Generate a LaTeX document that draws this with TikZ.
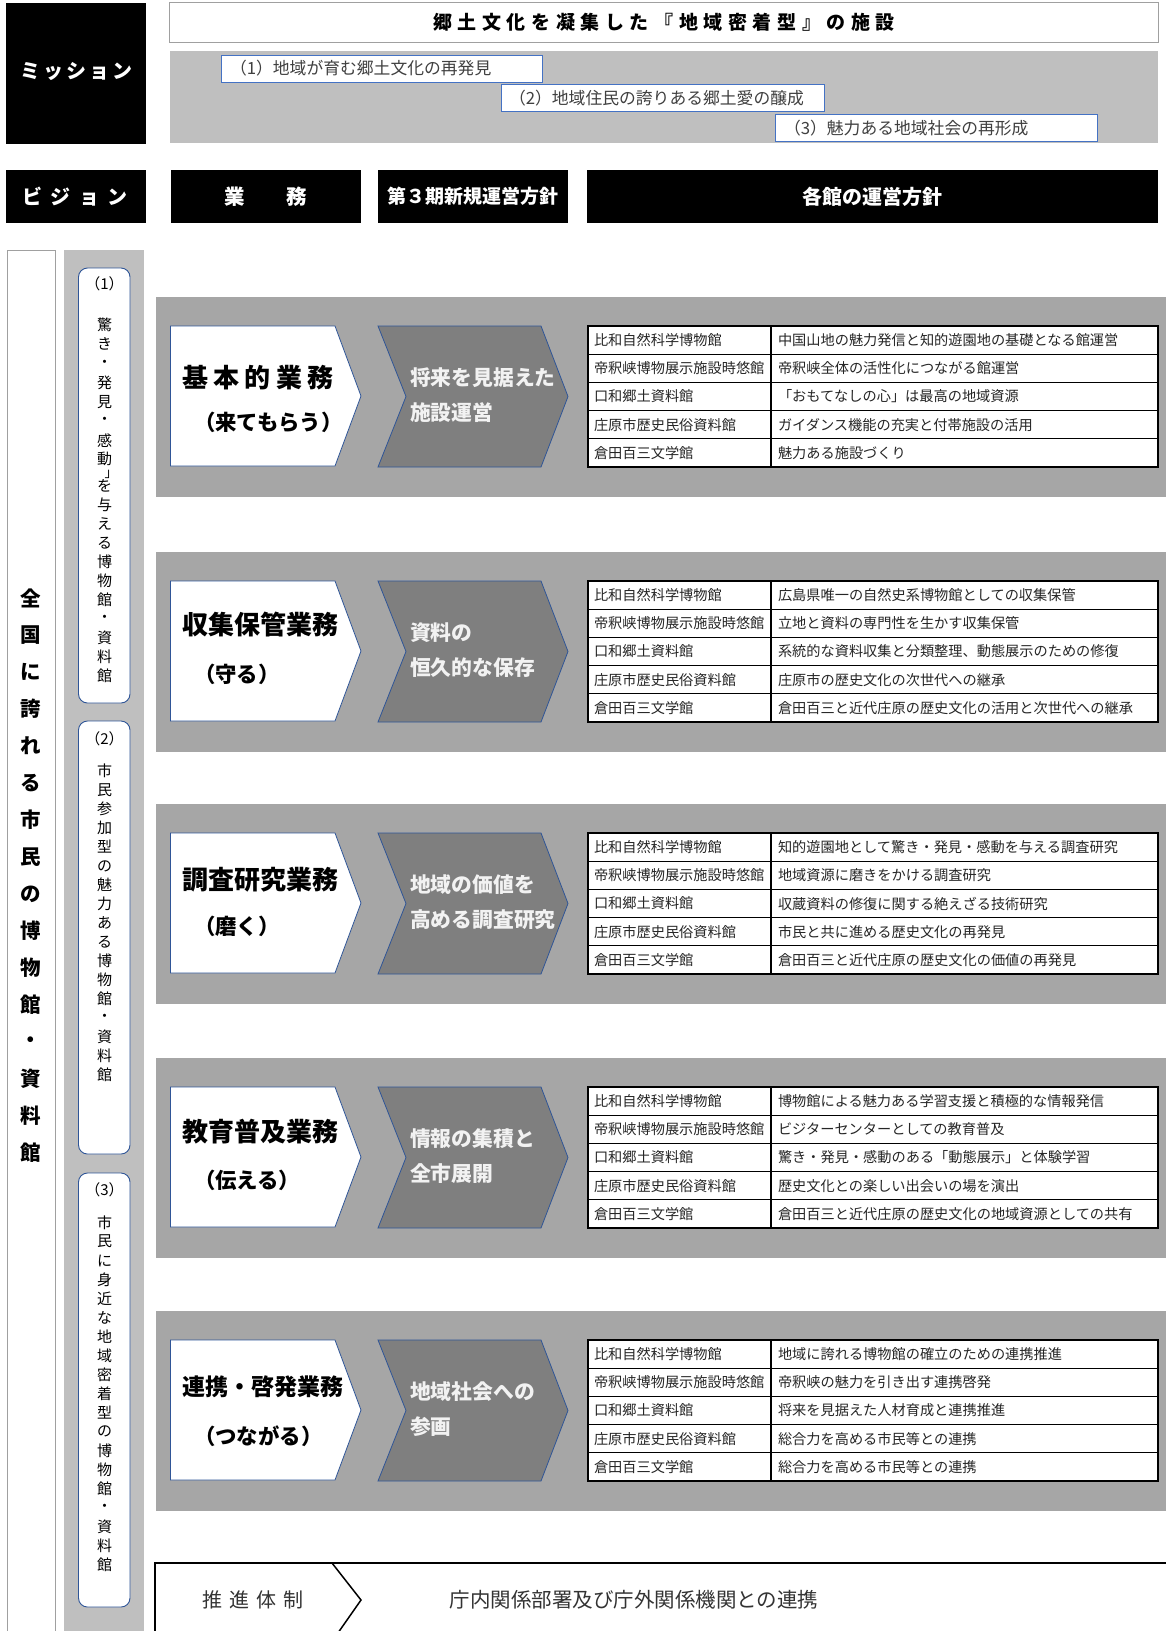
\documentclass[tikz,border=0pt]{standalone}
\usepackage{fontspec}
\setmainfont{Noto Sans CJK JP}
\definecolor{bandgray}{HTML}{BFBFBF}
\definecolor{secgray}{HTML}{A6A6A6}
\definecolor{darkgray}{HTML}{7F7F7F}
\definecolor{blueb}{HTML}{2F5597}
\definecolor{itemb}{HTML}{4472C4}
\definecolor{chevtext}{HTML}{F2F2F2}
\definecolor{bordgray}{HTML}{A0A0A0}
\definecolor{txtgray}{HTML}{404040}
\newcommand{\fsz}[1]{\fontsize{#1}{#1}\selectfont}
\newcommand{\bizsec}[9]{%
  \fill[secgray] (156,#1) rectangle (1175,#1+200);
  \draw[pentb] (170.5,#1+29) -- (335,#1+29) -- (361,#1+99) -- (335,#1+169) -- (170.5,#1+169) -- cycle;
  \draw[chevb] (378,#1+29) -- (541,#1+29) -- (568,#1+99.5) -- (541,#1+170) -- (378,#1+170) -- (406,#1+99.5) -- cycle;
  \node[bizttl, anchor=west] (biz#2) at (182,#1+#8) {#3};
  \node[bizsub, anchor=west] (sub#2) at (194,#1+#9) {#4};
  \node[chevtxt, anchor=west] (chA#2) at (410,#1+81) {#5};
  \node[chevtxt, anchor=west] (chB#2) at (410,#1+116) {#6};
  \fill[white] (587.5,#1+29) rectangle (1157.5,#1+170);
  \foreach \r in {1,...,4} \draw[tabin] (587.5,#1+29+28.2*\r) -- (1157.5,#1+29+28.2*\r);
  \draw[tabin] (771,#1+29) -- (771,#1+170);
  \draw[tabout] (587.5,#1+29) rectangle (1157.5,#1+170);
  \foreach \nm [count=\r from 0] in {比和自然科学博物館,帝釈峡博物展示施設時悠館,口和郷土資料館,庄原市歴史民俗資料館,倉田百三文学館}
    \node[cell, anchor=west] (nm#2-\r) at (594,#1+43.1+28.2*\r) {\nm};
  \foreach \tx [count=\r from 0] in {#7}
    \node[cell, anchor=west] (tx#2-\r) at (778,#1+43.1+28.2*\r) {\tx};
}
\begin{document}
\begin{tikzpicture}[x=1pt,y=-1pt,
  every node/.style={inner sep=0pt, outer sep=0pt},
  hdrbox/.style={fill=black},
  hdrtxt/.style={text=white, font=\bfseries\fsz{20}},
  itembox/.style={draw=itemb, fill=white, line width=0.9pt},
  itemtxt/.style={text=txtgray, font=\fsz{16.8}},
  pentb/.style={draw=blueb, fill=white, line width=0.8pt},
  chevb/.style={draw=blueb, fill=darkgray, line width=0.8pt},
  bizttl/.style={font=\bfseries\fsz{26}},
  bizsub/.style={font=\bfseries\fsz{21.4}},
  chevtxt/.style={text=chevtext, font=\bfseries\fsz{20.8}},
  tabin/.style={line width=1.2pt, black},
  tabout/.style={line width=2pt, black},
  cell/.style={font=\fsz{14.2}, text=black!85},
  vtxt/.style={font=\fsz{15}},
  bigv/.style={font=\bfseries\fsz{20.5}},
  roundbox/.style={draw=blueb, fill=white, line width=0.9pt, rounded corners=9pt}
]
\useasboundingbox (0,0) rectangle (1166,1631);
\clip (0,0) rectangle (1166,1631);
\fill[white] (0,0) rectangle (1166,1631);

% ---------- Mission ----------
\fill[hdrbox] (6,3) rectangle (145.5,143.5);
\node[hdrtxt] (mission) at (76.5,71.5) {ミ\kern2.8pt ッ\kern2.8pt シ\kern2.8pt ョ\kern2.8pt ン};
\draw[bordgray, line width=1pt, fill=white] (169.5,2.5) rectangle (1158,42.5);
\node[font=\bfseries\fsz{19}] (title) at (664,22.5) {郷\kern5.6pt 土\kern5.6pt 文\kern5.6pt 化\kern5.6pt を\kern5.6pt 凝\kern5.6pt 集\kern5.6pt し\kern5.6pt た\kern5.6pt 『\kern5.6pt 地\kern5.6pt 域\kern5.6pt 密\kern5.6pt 着\kern5.6pt 型\kern5.6pt 』\kern5.6pt の\kern5.6pt 施\kern5.6pt 設};
\fill[bandgray] (169.5,50.5) rectangle (1158,142.5);
\draw[itembox] (221,55) rectangle (542,82);
\node[itemtxt, anchor=west] (m1) at (230,68.5) {（1）地域が育む郷土文化の再発見};
\draw[itembox] (501,84) rectangle (824,111.5);
\node[itemtxt, anchor=west] (m2) at (509,97.8) {（2）地域住民の誇りある郷土愛の醸成};
\draw[itembox] (775.5,114) rectangle (1097,141.5);
\node[itemtxt, anchor=west] (m3) at (784,127.8) {（3）魅力ある地域社会の再形成};

% ---------- Header row ----------
\fill[hdrbox] (6,170) rectangle (145.5,223.3);
\node[hdrtxt] (vision) at (75,196.7) {ビ\kern8.3pt ジ\kern8.3pt ョ\kern8.3pt ン};
\fill[hdrbox] (171,170) rectangle (360.5,223.3);
\node[hdrtxt, font=\bfseries\fsz{20.5}] (gyomu) at (265.5,196.7) {業　　務};
\fill[hdrbox] (378,170) rectangle (568,223.3);
\node[hdrtxt, font=\bfseries\fsz{19}] (hoshin) at (473,196.7) {第３期新規運営方針};
\fill[hdrbox] (587,170) rectangle (1158,223.3);
\node[hdrtxt] (kakukan) at (872,196.7) {各館の運営方針};

% ---------- Left columns ----------
\draw[bordgray, line width=1pt, fill=white] (7,250) rectangle (55,1645);
\foreach \c [count=\k from 0] in {全,国,に,誇,れ,る,市,民,の,博,物,館,・,資,料,館}
  \node[bigv] (lv\k) at (31,598+37*\k) {\c};
\fill[bandgray] (64,250) rectangle (143.5,1645);
\draw[roundbox] (78.5,268) rectangle (130,703);
\draw[roundbox] (78.5,721) rectangle (130,1154);
\draw[roundbox] (78.5,1173) rectangle (130,1607);
\node[vtxt] (vl1) at (104.5,283.3) {（1）};
\node[vtxt] (vl2) at (104.5,738.6) {（2）};
\node[vtxt] (vl3) at (104.5,1190) {（3）};
\foreach \c [count=\k from 0] in {驚,き,・,発,見,・,感,動}
  \node[vtxt] (va\k) at (104.5,325+19.2*\k) {\c};
\node[vtxt, font=\fsz{13}] (vabr) at (111,474) {」};
\foreach \c [count=\k from 0] in {を,与,え,る,博,物,館,・,資,料,館}
  \node[vtxt] (vb\k) at (104.5,486+19*\k) {\c};
\foreach \c [count=\k from 0] in {市,民,参,加,型,の,魅,力,あ,る,博,物,館,・,資,料,館}
  \node[vtxt] (vc\k) at (104.5,771+19*\k) {\c};
\foreach \c [count=\k from 0] in {市,民,に,身,近,な,地,域,密,着,型,の,博,物,館,・,資,料,館}
  \node[vtxt] (vd\k) at (104.5,1222.6+19*\k) {\c};

% ---------- Business sections ----------
\bizsec{297}{1}{基\kern5.5pt 本\kern5.5pt 的\kern5.5pt 業\kern5.5pt 務}{（来てもらう）}{将来を見据えた}{施設運営}%
  {中国山地の魅力発信と知的遊園地の基礎となる館運営,帝釈峡全体の活性化につながる館運営,「おもてなしの心」は最高の地域資源,ガイダンス機能の充実と付帯施設の活用,魅力ある施設づくり}{81}{125}
\bizsec{552}{2}{収集保管業務}{（守る）}{資料の}{恒久的な保存}%
  {広島県唯一の自然史系博物館としての収集保管,立地と資料の専門性を生かす収集保管,系統的な資料収集と分類整理、動態展示のための修復,庄原市の歴史文化の次世代への継承,倉田百三と近代庄原の歴史文化の活用と次世代への継承}{73}{122}
\bizsec{804}{3}{調査研究業務}{（磨く）}{地域の価値を}{高める調査研究}%
  {知的遊園地として驚き・発見・感動を与える調査研究,地域資源に磨きをかける調査研究,収蔵資料の修復に関する絶えざる技術研究,市民と共に進める歴史文化の再発見,倉田百三と近代庄原の歴史文化の価値の再発見}{76}{122}
\bizsec{1058}{4}{教育普及業務}{（伝える）}{情報の集積と}{全市展開}%
  {博物館による魅力ある学習支援と積極的な情報発信,ビジターセンターとしての教育普及,驚き・発見・感動のある「動態展示」と体験学習,歴史文化との楽しい出会いの場を演出,倉田百三と近代庄原の歴史文化の地域資源としての共有}{74}{122}
\bizsec{1311}{5}{\fsz{23}連携・啓発業務}{（つながる）}{地域社会への}{参画}%
  {地域に誇れる博物館の確立のための連携推進,帝釈峡の魅力を引き出す連携啓発,将来を見据えた人材育成と連携推進,総合力を高める市民等との連携,総合力を高める市民等との連携}{76}{125}

% ---------- Bottom ----------
\draw[black, line width=2pt, fill=white] (154.5,1563) rectangle (1200,1700);
\coordinate (pt) at (332,1563);
\coordinate (pm) at (361,1600);
\coordinate (pb) at (333,1640);
\draw[black, line width=1.5pt] (pt) -- (pm) -- (pb);
\node[font=\fsz{20}, text=black!80] (suishin) at (253,1600) {推\kern7.2pt 進\kern7.2pt 体\kern7.2pt 制};
\node[font=\fsz{20.5}, text=black!80] (renkei) at (634,1600) {庁内関係部署及び庁外関係機関との連携};
\end{tikzpicture}
\end{document}
